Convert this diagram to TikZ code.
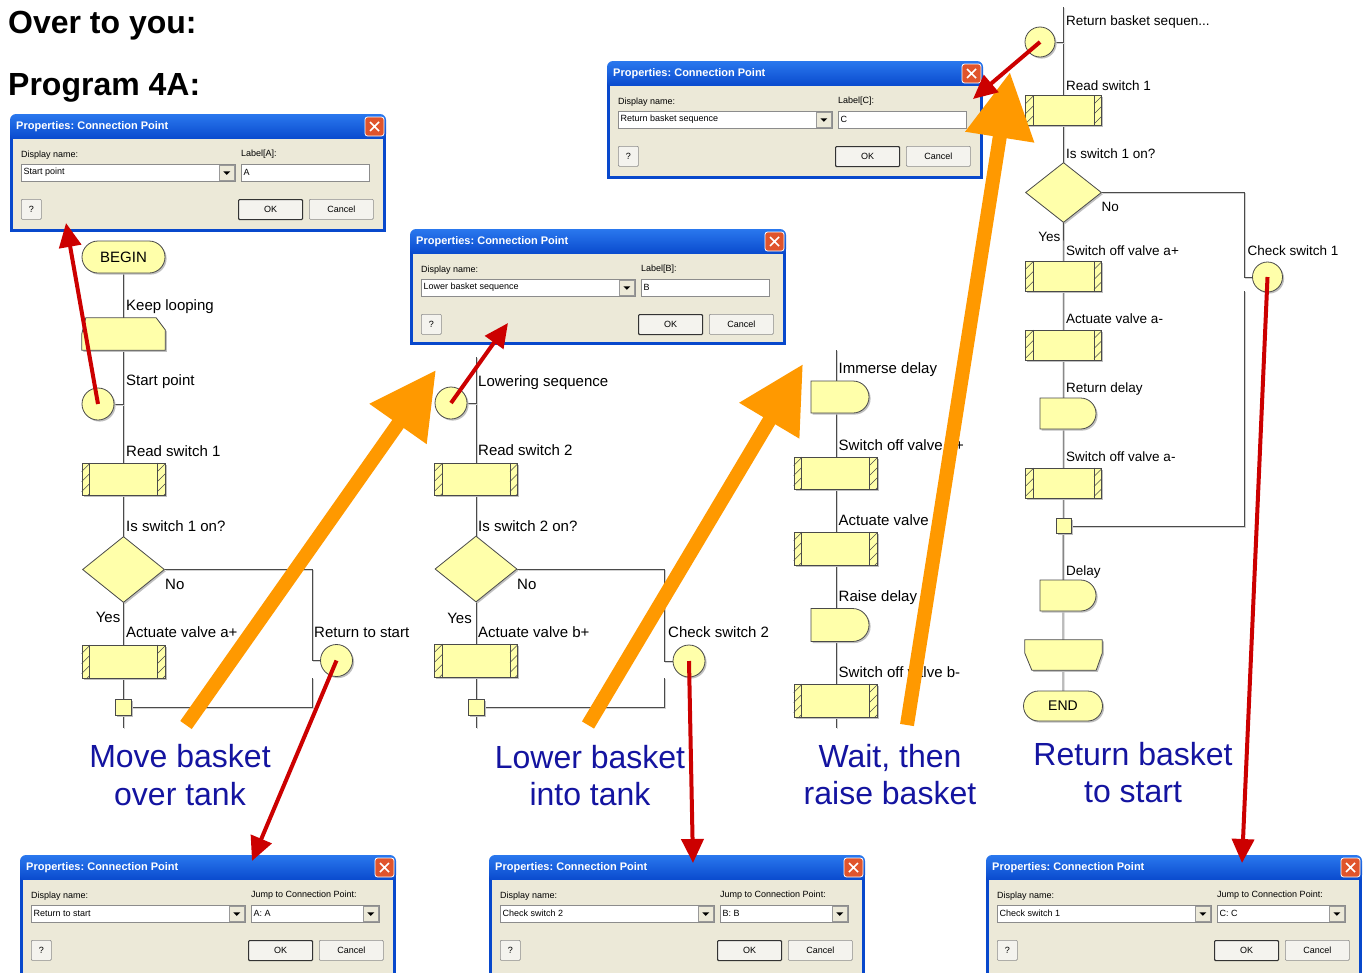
\documentclass[tikz,border=0pt]{standalone}
\usepackage{fontspec}
\setmainfont{Liberation Sans}
\usetikzlibrary{shapes.geometric,shapes.misc,arrows.meta,shadows,calc}
\frenchspacing

\pgfdeclarelayer{paper}
\pgfdeclarelayer{wires}
\pgfsetlayers{paper,wires,main}

\definecolor{fcfill}{HTML}{FFFFAA}
\definecolor{fcline}{HTML}{4A4A4A}
\definecolor{xpbody}{HTML}{ECE9D8}
\definecolor{xpblue}{HTML}{0848CC}
\definecolor{xptop}{HTML}{2A78EE}
\definecolor{xpbtn}{HTML}{F4F3EE}
\definecolor{xpclose}{HTML}{E0542C}
\definecolor{arrred}{HTML}{CC0000}
\definecolor{arrorange}{HTML}{FF9900}
\definecolor{captionblue}{RGB}{20,20,160}

\tikzset{
  shp/.style={draw=fcline, fill=fcfill, line width=0.8pt, inner sep=0pt,
    drop shadow={shadow xshift=1.6pt, shadow yshift=-1.6pt, fill=black!25, opacity=1}},
  term/.style={shp, rounded rectangle, minimum width=83pt, minimum height=32pt},
  subr/.style={shp, rectangle, minimum width=83pt, minimum height=32pt},
  decide/.style={shp, diamond, minimum width=82pt, minimum height=66pt},
  conn/.style={shp, circle, minimum size=32pt},
  junc/.style={shp, rectangle, minimum size=16pt},
  dly/.style={shp, rounded rectangle, rounded rectangle left arc=none,
    minimum width=58pt, minimum height=32pt},
  spot/.style={rectangle, inner sep=0pt},
  loopline/.style={draw=fcline, fill=fcfill, line width=0.8pt,
    drop shadow={shadow xshift=1.6pt, shadow yshift=-1.6pt, fill=black!25, opacity=1}},
  hatch/.style={draw=fcline, line width=0.5pt},
  flow/.style={draw=fcline, line width=0.8pt},
  flowshadow/.style={draw=black!18, line width=0.8pt},
  lbl/.style={inner sep=0pt, anchor=base west, font=\fontsize{15}{18}\selectfont},
  lbls/.style={inner sep=0pt, anchor=base west, font=\fontsize{13.5}{16}\selectfont},
  caption/.style={inner sep=0pt, anchor=base, text=captionblue, font=\fontsize{32}{38}\selectfont},
  heading/.style={inner sep=0pt, anchor=base west, font=\fontsize{32}{38}\selectfont\bfseries},
  redarrow/.style={draw=arrred, line width=4pt, -{Triangle[length=24pt,width=22pt]}},
  orangearrow/.style={draw=arrorange, line width=14pt, -{Triangle[length=66pt,width=66pt]}},
  dlgtext/.style={inner sep=0pt, anchor=west, font=\fontsize{9}{11}\selectfont},
  dlgtitle/.style={inner sep=0pt, anchor=west, text=white, font=\fontsize{11}{13}\selectfont\bfseries},
  field/.style={draw=black!45, fill=white, line width=0.6pt, inner sep=0pt, anchor=north west},
  dropbtn/.style={draw=black!40, fill=xpbody, line width=0.5pt, inner sep=0pt,
    minimum width=15pt, minimum height=15pt, anchor=north east},
  btn/.style={draw=black!45, fill=xpbtn, line width=0.7pt, inner sep=0pt, minimum height=20pt,
    anchor=north west, font=\fontsize{9}{11}\selectfont, rounded corners=1pt},
  okbtn/.style={draw=black!80, line width=1.1pt},
  closebtn/.style={draw=white, fill=xpclose, line width=0.8pt, rounded corners=2.5pt,
    minimum size=19pt, inner sep=0pt},
}

% flow line with its soft shadow
\newcommand\flowwire[1]{%
  \draw[flowshadow, transform canvas={xshift=1.2pt,yshift=-1.2pt}] #1;%
  \draw[flow] #1;}

% subroutine box with hatched side strips: name, x, y, width, height
\newcommand\fcsub[5]{%
  \node[subr, minimum width=#4pt, minimum height=#5pt] (#1) at (#2,#3) {};%
  \begin{scope}
    \clip (#1.north west) rectangle ($(#1.south west)+(8,0)$);
    \foreach \k in {9,19,...,59} \draw[hatch] ($(#1.north west)+(0,\k)$) -- ++(8,-8);
  \end{scope}
  \begin{scope}
    \clip ($(#1.north east)+(-8,0)$) rectangle (#1.south east);
    \foreach \k in {9,19,...,59} \draw[hatch] ($(#1.north east)+(-8,\k)$) -- ++(8,-8);
  \end{scope}
  \draw[fcline, line width=0.6pt] ($(#1.north west)+(8,0)$) -- ($(#1.south west)+(8,0)$);
  \draw[fcline, line width=0.6pt] ($(#1.north east)+(-8,0)$) -- ($(#1.south east)+(-8,0)$);
}

% loop start (top corners cut): name, x, y, width, height
\newcommand\fcloopstart[5]{%
  \node[spot, minimum width=#4pt, minimum height=#5pt] (#1) at (#2,#3) {};%
  \draw[loopline] (#1.south west) -- ($(#1.north west)+(0,16)$) -- ($(#1.north west)+(4,0)$)
    -- ($(#1.north east)+(-9,0)$) -- ($(#1.north east)+(0,12)$) -- (#1.south east) -- cycle;}

% loop end (bottom corners cut): name, x, y, width, height
\newcommand\fcloopend[5]{%
  \node[spot, minimum width=#4pt, minimum height=#5pt] (#1) at (#2,#3) {};%
  \draw[loopline] (#1.north west) -- (#1.north east) -- ($(#1.south east)+(0,-17)$)
    -- ($(#1.south east)+(-6,0)$) -- ($(#1.south west)+(7,0)$) -- ($(#1.south west)+(0,-17)$) -- cycle;}

% connection point properties window:
% name, x, y, display value, right caption, right value, right field is a list (1/0), height
\newcommand\cpdialog[8]{%
  \begin{scope}[shift={(#2,#3)}]
    \fill[xpblue] (0,12) rectangle (376,#8);
    \shade[top color=xptop, bottom color=xpblue, rounded corners=6pt] (0,0) rectangle (376,26);
    \node[inner sep=0pt, minimum width=370pt, minimum height={(#8-28)*1pt}, anchor=north west, fill=xpbody] (#1) at (3,25) {};
    \node[dlgtitle] (#1-title) at (6,13) {Properties: Connection Point};
    \node[closebtn] (#1-close) at (364.5,12.5) {};
    \draw[white, line width=1.7pt] ($(#1-close)+(-4.5,-4.5)$) -- ($(#1-close)+(4.5,4.5)$)
      ($(#1-close)+(-4.5,4.5)$) -- ($(#1-close)+(4.5,-4.5)$);
    \node[dlgtext] (#1-nameL) at (11,41) {Display name:};
    \node[field, minimum width=214pt, minimum height=17pt] (#1-nameF) at (11,50) {};
    \node[dlgtext] (#1-nameV) at (13.5,58.5) {#4};
    \node[dropbtn] (#1-nameD) at (224.5,51) {};
    \fill ($(#1-nameD)+(-3.5,-1.5)$) -- ++(7,0) -- ++(-3.5,3.5) -- cycle;
    \node[dlgtext] (#1-keyL) at (231,40) {#5};
    \node[field, minimum width=128pt, minimum height=17pt] (#1-keyF) at (231,50) {};
    \node[dlgtext] (#1-keyV) at (233.5,58.5) {#6};
    \ifnum#7=1
      \node[dropbtn] (#1-keyD) at (358.5,51) {};
      \fill ($(#1-keyD)+(-3.5,-1.5)$) -- ++(7,0) -- ++(-3.5,3.5) -- cycle;
    \fi
    \node[btn, minimum width=20pt] (#1-help) at (11,85) {?};
    \node[btn, okbtn, minimum width=64pt] (#1-ok) at (228,85) {OK};
    \node[btn, minimum width=64pt] (#1-cancel) at (299,85) {Cancel};
  \end{scope}}

\begin{document}
\begin{tikzpicture}[x=1pt,y=-1pt]
\useasboundingbox (0,0) rectangle (1364,972);
\begin{pgfonlayer}{paper}
  \fill[white] (0,0) rectangle (1364,972);
\end{pgfonlayer}
\clip (0,0) rectangle (1364,972);

% headings
\node[heading] (hOver) at (8,33) {Over to you:};
\node[heading] (hProg) at (8,95) {Program 4A:};

% ---------- column 1: move basket over tank ----------
\node[term, font=\fontsize{15}{18}\selectfont] (beginA) at (123.5,257) {BEGIN};
\node[lbl] (lkeep) at (126,310.5) {Keep looping};
\fcloopstart{loopA}{123.5}{334}{83}{32}
\node[lbl] (lstartA) at (126,385.5) {Start point};
\node[conn] (cpA) at (98,404) {};
\node[lbl] (lreadA) at (126,456) {Read switch 1};
\fcsub{rdA}{123.5}{479}{83}{32}
\node[lbl] (lqA) at (126,531.5) {Is switch 1 on?};
\node[decide] (decA) at (123.5,569.5) {};
\node[lbl] (lnoA) at (165,589) {No};
\node[lbl, anchor=base east] (lyesA) at (120.5,622.5) {Yes};
\node[lbl] (lactA) at (126,637.5) {Actuate valve a+};
\fcsub{actA}{123.5}{661.5}{83}{33}
\node[junc] (jA) at (123.5,707) {};
\node[lbl] (lretA) at (314,637.5) {Return to start};
\node[conn] (retA) at (336.5,660.5) {};
\coordinate (tailA) at (123.5,728);
\coordinate (gapA1) at (312,660.5);
\coordinate (gapA2) at (312,678);

% ---------- column 2: lower basket into tank ----------
\coordinate (headB) at (476,357);
\node[lbl] (lseqB) at (478,386) {Lowering sequence};
\node[conn] (cpB) at (451,403) {};
\node[lbl] (lreadB) at (478,455.5) {Read switch 2};
\fcsub{rdB}{476}{479}{83}{32}
\node[lbl] (lqB) at (478,531) {Is switch 2 on?};
\node[decide] (decB) at (476,569) {};
\node[lbl] (lnoB) at (517,589) {No};
\node[lbl, anchor=base east] (lyesB) at (472,623) {Yes};
\node[lbl] (lactB) at (478,637) {Actuate valve b+};
\fcsub{actB}{476}{660.5}{83}{33}
\node[junc] (jB) at (476,707) {};
\node[lbl] (lchkB) at (668,637) {Check switch 2};
\node[conn] (chkB) at (689,661) {};
\coordinate (tailB) at (476,728);
\coordinate (gapB1) at (664.5,661);
\coordinate (gapB2) at (664.5,678);

% ---------- column 3: wait, then raise basket ----------
\coordinate (headC) at (836,350);
\coordinate (tailC) at (836,728);
\node[lbl] (limm) at (838.5,373.5) {Immerse delay};
\node[dly] (dlyC1) at (840,397) {};
\node[lbl] (lswC1) at (838.5,450) {Switch off valve b+};
\fcsub{swC1}{835.5}{473}{83}{32}
\node[lbl] (lactC) at (838.5,525.5) {Actuate valve b-};
\fcsub{actC}{835.5}{548.5}{83}{33}
\node[lbl] (lraise) at (838.5,601.5) {Raise delay};
\node[dly, minimum height=33pt] (dlyC2) at (840,625) {};
\node[lbl] (lswC2) at (838.5,677) {Switch off valve b-};
\fcsub{swC2}{835.5}{700.5}{83}{33}

% ---------- column 4: return basket to start ----------
\coordinate (headD) at (1063.5,7);
\node[lbls] (lseqD) at (1066,25) {Return basket sequen...};
\node[conn, minimum size=30pt] (cpD) at (1040,42) {};
\node[lbls] (lreadD) at (1066,90) {Read switch 1};
\fcsub{rdD}{1063.5}{110.5}{76}{30}
\node[lbls] (lqD) at (1066,158) {Is switch 1 on?};
\node[decide, minimum width=76pt, minimum height=60pt] (decD) at (1063.5,192.5) {};
\node[lbls] (lnoD) at (1101.5,211) {No};
\node[lbls, anchor=base east] (lyesD) at (1060.5,241.5) {Yes};
\node[lbls] (lswD1) at (1066,255) {Switch off valve a+};
\fcsub{swD1}{1063.5}{276}{76}{30}
\node[lbls] (lactD) at (1066,323) {Actuate valve a-};
\fcsub{actD}{1063.5}{345}{76}{30}
\node[lbls] (lretD) at (1066,392.5) {Return delay};
\node[dly, minimum width=56pt, minimum height=31pt] (dlyD1) at (1068,413.5) {};
\node[lbls] (lswD2) at (1066,461.5) {Switch off valve a-};
\fcsub{swD2}{1063.5}{483}{76}{30}
\node[junc, minimum size=15pt] (jD) at (1063.5,526) {};
\node[lbls] (ldelay) at (1066,575) {Delay};
\node[dly, minimum width=56pt, minimum height=31pt] (dlyD2) at (1068,595.5) {};
\fcloopend{loopD}{1063.5}{655}{77}{30}
\node[term, minimum width=79pt, minimum height=30pt, font=\fontsize{14}{17}\selectfont] (endD) at (1063,706) {END};
\node[lbls] (lchkD) at (1247.5,255) {Check switch 1};
\node[conn, minimum size=30pt] (chkD) at (1267.5,277) {};
\coordinate (gapD1) at (1244.5,277);
\coordinate (gapD2) at (1244.5,291);

% flow lines under the symbols
\begin{pgfonlayer}{wires}
  \flowwire{(beginA.center) -- (tailA)}
  \flowwire{(cpA.east) -- (cpA.east -| beginA.center)}
  \flowwire{(decA.east) -| (gapA1) -- (retA.west)}
  \flowwire{(gapA2) |- (jA.east)}
  \flowwire{(headB) -- (tailB)}
  \flowwire{(cpB.east) -- (cpB.east -| headB)}
  \flowwire{(decB.east) -| (gapB1) -- (chkB.west)}
  \flowwire{(gapB2) |- (jB.east)}
  \flowwire{(headC) -- (tailC)}
  \flowwire{(headD) -- (endD.center)}
  \flowwire{(cpD.east) -- (cpD.east -| headD)}
  \flowwire{(decD.east) -| (gapD1) -- (chkD.west)}
  \flowwire{(gapD2) |- (jD.east)}
\end{pgfonlayer}

% property windows
\cpdialog{dlgA}{10}{114}{Start point}{Label[A]:}{A}{0}{118}
\cpdialog{dlgB}{410}{229}{Lower basket sequence}{Label[B]:}{B}{0}{116}
\cpdialog{dlgC}{607}{61}{Return basket sequence}{Label[C]:}{C}{0}{118}
\cpdialog{dlgJA}{20}{855}{Return to start}{Jump to Connection Point:}{A: A}{1}{130}
\cpdialog{dlgJB}{489}{855}{Check switch 2}{Jump to Connection Point:}{B: B}{1}{130}
\cpdialog{dlgJC}{986}{855}{Check switch 1}{Jump to Connection Point:}{C: C}{1}{130}

% captions
\node[caption] (capA1) at (180,767) {Move basket};
\node[caption] (capA2) at (180,805) {over tank};
\node[caption] (capB1) at (590,768) {Lower basket};
\node[caption] (capB2) at (590,805) {into tank};
\node[caption] (capC1) at (890,767) {Wait, then};
\node[caption] (capC2) at (890,804) {raise basket};
\node[caption] (capD1) at (1133,765) {Return basket};
\node[caption] (capD2) at (1133,802) {to start};

% orange arrows between the stages
\coordinate (oA0) at (186,725);
\coordinate (oA1) at (436,370);
\coordinate (oB0) at (588,725);
\coordinate (oB1) at (803,364);
\coordinate (oC0) at (907,725);
\coordinate (oC1) at (1010,72);
\draw[orangearrow] (oA0) -- (oA1);
\draw[orangearrow] (oB0) -- (oB1);
\draw[orangearrow] (oC0) -- (oC1);

% red arrows from connection points to their windows
\coordinate (tipA) at (66,223);
\coordinate (tipB) at (508,323);
\coordinate (tipC) at (973,99);
\coordinate (tipJA) at (252,861);
\coordinate (tipJB) at (693,863);
\coordinate (tipJC) at (1242,863);
\draw[redarrow] (cpA.center) -- (tipA);
\draw[redarrow] (cpB.center) -- (tipB);
\draw[redarrow] (cpD.center) -- (tipC);
\draw[redarrow] (retA.center) -- (tipJA);
\draw[redarrow] (chkB.center) -- (tipJB);
\draw[redarrow] (chkD.center) -- (tipJC);
\end{tikzpicture}
\end{document}
